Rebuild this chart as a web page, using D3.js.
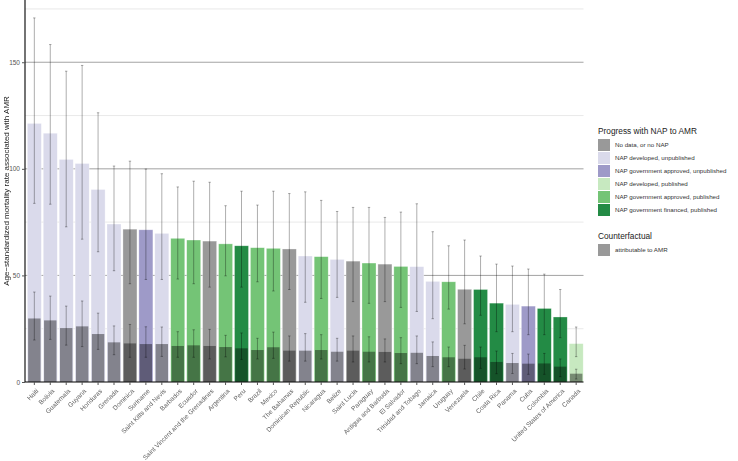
<!DOCTYPE html>
<html>
<head>
<meta charset="utf-8">
<script src="https://cdn.jsdelivr.net/npm/d3@7"></script>
<style>
  html, body { margin: 0; padding: 0; background: #fff; }
  svg { display: block; font-family: "Liberation Sans", Arial, Helvetica, sans-serif; }
</style>
</head>
<body>
<svg id="chart" width="738" height="461"></svg>
<script>
const countries = ["Haiti","Bolivia","Guatemala","Guyana","Honduras","Grenada","Dominica","Suriname","Saint Kitts and Nevis","Barbados","Ecuador","Saint Vincent and the Grenadines","Argentina","Peru","Brazil","Mexico","The Bahamas","Dominican Republic","Nicaragua","Belize","Saint Lucia","Paraguay","Antigua and Barbuda","El Salvador","Trinidad and Tobago","Jamaica","Uruguay","Venezuela","Chile","Costa Rica","Panama","Cuba","Colombia","United States of America","Canada"];
const status = ["dev_unpub","dev_unpub","dev_unpub","dev_unpub","dev_unpub","dev_unpub","none","appr_unpub","dev_unpub","appr_pub","appr_pub","none","appr_pub","fin_pub","appr_pub","appr_pub","none","dev_unpub","appr_pub","dev_unpub","none","appr_pub","none","appr_pub","dev_unpub","dev_unpub","appr_pub","none","fin_pub","fin_pub","dev_unpub","appr_unpub","fin_pub","fin_pub","dev_pub"];
const total   = [121.3,116.7,104.4,102.5,90.3,74.1,71.7,71.4,69.7,67.4,66.6,66.1,64.8,63.9,63.0,62.7,62.4,59.1,58.8,57.5,56.7,55.8,55.3,54.2,54.1,47.2,47.0,43.5,43.4,37.0,36.4,35.6,34.5,30.5,18.0];
const totalLo = [83.8,83.4,72.8,67.0,61.1,52.2,46.1,48.1,48.1,48.3,46.1,44.5,49.8,44.5,47.0,42.7,43.4,37.4,39.2,39.7,37.7,36.9,37.7,35.0,33.1,29.7,34.2,27.3,31.3,23.6,23.6,22.2,22.2,20.8,11.9];
const totalHi = [170.8,158.3,145.8,148.5,126.3,101.3,103.6,99.9,97.7,91.5,94.2,93.7,82.7,89.5,83.0,89.5,88.4,89.2,85.2,80.0,81.9,81.9,77.2,79.7,83.6,70.5,63.9,66.6,59.1,55.3,54.4,53.0,50.6,43.4,25.8];
const amr     = [29.8,28.9,25.3,26.1,22.5,18.6,18.1,17.8,17.8,16.9,17.2,16.9,16.4,15.8,15.0,16.3,14.7,14.7,15.0,14.2,14.7,14.2,14.1,13.6,13.7,12.2,11.6,10.9,11.6,9.4,8.9,8.6,8.7,7.2,3.9];
const amrLo   = [19.7,20.0,17.3,16.6,15.3,12.8,11.6,11.6,12.0,11.6,11.6,10.8,11.8,10.6,10.8,11.1,9.8,9.8,10.8,9.8,9.4,9.4,9.4,8.6,8.6,7.2,7.2,6.1,6.4,3.9,4.0,3.6,3.6,2.5,1.4];
const amrHi   = [42.2,40.3,35.6,38.0,32.3,26.3,27.0,25.9,25.8,23.6,24.5,24.7,21.9,23.0,20.5,23.4,21.6,22.7,22.2,20.5,21.6,21.2,20.2,20.8,21.6,18.8,16.4,17.2,16.4,14.5,13.4,13.1,13.4,10.8,6.0];

const statusKeys   = ["none","dev_unpub","appr_unpub","dev_pub","appr_pub","fin_pub"];
const statusLabels = ["No data, or no NAP","NAP developed, unpublished","NAP government approved, unpublished","NAP developed, published","NAP government approved, published","NAP government financed, published"];
const statusColors = ["#999999","#dadaeb","#9e9ac8","#c7e9c0","#74c476","#238b45"];
const yTicks = [0,50,100,150];
const majorGrid = [50,100,150];
const minorGrid = [25,75,125,175];

const data = countries.map((c,i)=>({c, s:status[i], t:total[i], tl:totalLo[i], th:totalHi[i], a:amr[i], al:amrLo[i], ah:amrHi[i]}));

const svg = d3.select("#chart");
const pLeft = 25, pRight = 583.5, pTop = 0, pBottom = 382;

const x = d3.scaleBand().domain(countries).range([pLeft+2, pRight]).paddingInner(0.12).paddingOuter(0.02);
const y = d3.scaleLinear().domain([0,179.2]).range([pBottom, pTop]);
const color = d3.scaleOrdinal().domain(statusKeys).range(statusColors);

// gridlines
svg.append("g").selectAll("line").data(minorGrid).join("line")
  .attr("x1", pLeft).attr("x2", pRight).attr("y1", d=>y(d)).attr("y2", d=>y(d))
  .attr("stroke", "#e3e3e3").attr("stroke-width", 0.8);
svg.append("g").selectAll("line").data(majorGrid).join("line")
  .attr("x1", pLeft).attr("x2", pRight).attr("y1", d=>y(d)).attr("y2", d=>y(d))
  .attr("stroke", "#8a8a8a").attr("stroke-width", 0.8);

// main bars
svg.append("g").selectAll("rect").data(data).join("rect")
  .attr("x", d=>x(d.c)).attr("width", x.bandwidth())
  .attr("y", d=>y(d.t)).attr("height", d=>y(0)-y(d.t))
  .attr("fill", d=>color(d.s))
  .attr("stroke", "#ffffff").attr("stroke-opacity", 0.5).attr("stroke-width", 0.6);

// AMR overlay bars
svg.append("g").selectAll("rect").data(data).join("rect")
  .attr("x", d=>x(d.c)+0.8).attr("width", x.bandwidth()-1.6)
  .attr("y", d=>y(d.a)).attr("height", d=>y(0)-y(d.a))
  .attr("fill", "#000").attr("fill-opacity", 0.4);

// error bars
function whiskers(lo, hi) {
  const g = svg.append("g").attr("stroke", "#000").attr("stroke-opacity", 0.32).attr("stroke-width", 1);
  data.forEach(d=>{
    const cx = x(d.c) + x.bandwidth()/2;
    g.append("line").attr("x1", cx).attr("x2", cx).attr("y1", y(lo(d))).attr("y2", y(hi(d)));
    g.append("line").attr("x1", cx-1.2).attr("x2", cx+1.2).attr("y1", y(lo(d))).attr("y2", y(lo(d)));
    g.append("line").attr("x1", cx-1.2).attr("x2", cx+1.2).attr("y1", y(hi(d))).attr("y2", y(hi(d)));
  });
}
whiskers(d=>d.tl, d=>d.th);
whiskers(d=>d.al, d=>d.ah);

// axes
const yAxis = svg.append("g").attr("transform", `translate(${pLeft},0)`)
  .call(d3.axisLeft(y).tickValues(yTicks).tickSize(3).tickPadding(2).tickFormat(d3.format("d")));
yAxis.select(".domain").attr("d", `M0,${pTop}V${pBottom}`).attr("stroke", "#000").attr("stroke-width", 1.1);
yAxis.selectAll(".tick line").attr("stroke", "#555");
yAxis.selectAll(".tick text").attr("fill", "#555").attr("font-size", 6.5).attr("font-family", "Liberation Sans, Arial, sans-serif");

const xAxis = svg.append("g").attr("transform", `translate(0,${pBottom})`)
  .call(d3.axisBottom(x).tickSize(3).tickPadding(2));
xAxis.select(".domain").attr("d", `M${pLeft},0H${pRight}`).attr("stroke", "#000").attr("stroke-width", 1.1);
xAxis.selectAll(".tick line").attr("stroke", "#555");
xAxis.selectAll(".tick text")
  .attr("fill", "#606060").attr("font-size", 6.5).attr("font-family", "Liberation Sans, Arial, sans-serif")
  .attr("text-anchor", "end").attr("dx", 0).attr("dy", 0)
  .attr("transform", "translate(1,6) rotate(-45)");
xAxis.style("filter", "grayscale(1)");

// y title
svg.append("text")
  .attr("transform", `translate(8.5,${(pTop+pBottom)/2}) rotate(-90)`)
  .attr("text-anchor", "middle").attr("font-size", 8).attr("fill", "#222")
  .style("filter", "grayscale(1)")
  .text("Age−standardized mortality rate associated with AMR");

// legend
const lg = svg.append("g");
lg.append("text").attr("x", 598).attr("y", 134).attr("font-size", 8.3).attr("fill", "#222").text("Progress with NAP to AMR");
statusKeys.forEach((k,i)=>{
  const yy = 139 + i*13;
  lg.append("rect").attr("x", 598).attr("y", yy).attr("width", 12).attr("height", 12).attr("fill", statusColors[i]);
  lg.append("text").attr("x", 615).attr("y", yy+6).attr("dy", "0.35em").attr("font-size", 6.2).attr("fill", "#333").text(statusLabels[i]);
});
lg.append("text").attr("x", 598).attr("y", 238.5).attr("font-size", 8.3).attr("fill", "#222").text("Counterfactual");
lg.append("rect").attr("x", 598).attr("y", 244).attr("width", 12).attr("height", 12).attr("fill", "#000").attr("fill-opacity", 0.4);
lg.append("text").attr("x", 615).attr("y", 250).attr("dy", "0.35em").attr("font-size", 6.2).attr("fill", "#333").text("attributable to AMR");
</script>
</body>
</html>
